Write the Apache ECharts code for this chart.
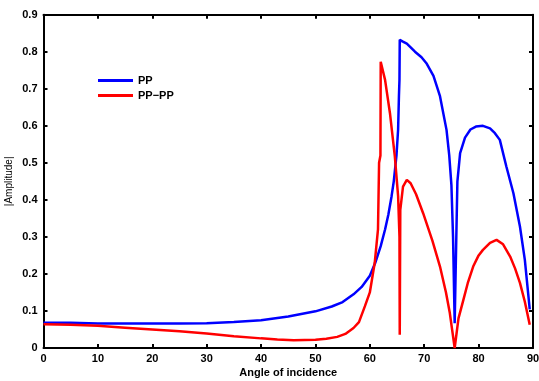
<!DOCTYPE html>
<html>
<head>
<meta charset="utf-8">
<script src="https://cdn.jsdelivr.net/npm/echarts@6/dist/echarts.min.js"></script>
<style>
html,body{margin:0;padding:0;background:#fff;}
#chart{width:539px;height:381px;}
</style>
</head>
<body>
<div id="chart"></div>
<script>
const xTicks = [0, 10, 20, 30, 40, 50, 60, 70, 80, 90];
const yTicks = [0, 0.1, 0.2, 0.3, 0.4, 0.5, 0.6, 0.7, 0.8, 0.9];
const seriesNames = ['PP', 'PP\u2212PP'];

const ppAngle = [0, 5, 10, 15, 20, 25, 30, 35, 40, 45, 50, 53, 55, 57, 58.5, 60, 61, 62, 62.8, 63.4, 64.0, 64.4, 64.9, 65.2, 65.35, 65.45, 65.5, 66, 66.8, 68.3, 69.5, 70.4, 71.7, 72.9, 74.1, 74.6, 75, 75.3, 75.6, 75.9, 76.1, 76.6, 77.5, 78.5, 79.5, 80.8, 82.1, 83, 83.9, 85.1, 86.4, 87.6, 88.5, 89.4];
const ppAmp = [0.068, 0.068, 0.066, 0.066, 0.066, 0.066, 0.067, 0.07, 0.075, 0.085, 0.099, 0.112, 0.124, 0.145, 0.165, 0.195, 0.23, 0.275, 0.32, 0.36, 0.41, 0.45, 0.52, 0.59, 0.68, 0.725, 0.832, 0.828, 0.822, 0.80, 0.785, 0.769, 0.735, 0.68, 0.589, 0.52, 0.44, 0.3, 0.067, 0.3, 0.45, 0.526, 0.568, 0.59, 0.598, 0.60, 0.593, 0.58, 0.562, 0.49, 0.418, 0.328, 0.238, 0.104];

const ppppAngle = [0, 5, 10, 15, 20, 25, 30, 35, 40, 43, 46, 50, 52, 54, 55.5, 57, 58, 59.1, 60, 60.9, 61.5, 61.7, 61.95, 62.0, 62.8, 63.7, 64.6, 65.2, 65.45, 65.5, 65.6, 66.1, 66.8, 67.5, 68.5, 69.8, 71.5, 72.9, 74.0, 74.7, 75.6, 76.3, 77.2, 78, 79, 80, 80.8, 82.1, 83.3, 84.5, 85.8, 86.7, 87.6, 88.5, 89.4];
const ppppAmp = [0.064, 0.063, 0.06, 0.055, 0.05, 0.045, 0.039, 0.032, 0.026, 0.023, 0.021, 0.022, 0.025, 0.03, 0.038, 0.054, 0.07, 0.113, 0.15, 0.23, 0.32, 0.5, 0.52, 0.773, 0.724, 0.634, 0.517, 0.41, 0.30, 0.036, 0.373, 0.436, 0.454, 0.445, 0.415, 0.364, 0.29, 0.22, 0.15, 0.095, 0.0, 0.08, 0.13, 0.175, 0.22, 0.25, 0.265, 0.284, 0.292, 0.28, 0.247, 0.215, 0.176, 0.125, 0.063];

const pair = (xs, ys) => xs.map((x, i) => [x, ys[i]]);
const font = 'Liberation Sans, Arial, sans-serif';

const chart = echarts.init(document.getElementById('chart'), null, {renderer: 'canvas'});
const axisLine = {show: true, onZero: false, lineStyle: {color: '#000', width: 2}};
const axisTick = {show: true, inside: true, length: 4, lineStyle: {color: '#000', width: 2}};
chart.setOption({
  animation: false,
  backgroundColor: '#fff',
  grid: {left: 43.5, right: 6, top: 14.7, bottom: 33, containLabel: false, outerBoundsMode: 'none'},
  legend: {
    orient: 'vertical', left: 93, top: 70,
    itemWidth: 35, itemHeight: 3, itemGap: 4,
    icon: 'rect',
    textStyle: {fontFamily: font, fontSize: 11, color: '#000', fontWeight: 'bold'},
    data: seriesNames
  },
  xAxis: [{
    type: 'value', min: xTicks[0], max: xTicks[xTicks.length - 1], interval: 10,
    axisLine, axisTick,
    splitLine: {show: false},
    axisLabel: {fontFamily: font, fontSize: 11, fontWeight: 'bold', color: '#000', margin: 5,
      formatter: v => String(v)},
    name: 'Angle of incidence', nameLocation: 'middle', nameGap: 19, nameMoveOverlap: false,
    nameTextStyle: {fontFamily: font, fontSize: 11, fontWeight: 'bold', color: '#000'}
  }, {
    type: 'value', position: 'top', min: xTicks[0], max: xTicks[xTicks.length - 1], interval: 10,
    axisLine, axisTick, axisLabel: {show: false}, splitLine: {show: false}
  }],
  yAxis: [{
    type: 'value', min: yTicks[0], max: yTicks[yTicks.length - 1], interval: 0.1,
    axisLine, axisTick,
    splitLine: {show: false},
    axisLabel: {fontFamily: font, fontSize: 11, fontWeight: 'bold', color: '#000', margin: 6,
      formatter: v => (Math.round(v * 10) / 10).toString()},
    name: '|Amplitude|', nameLocation: 'middle', nameGap: 29, nameMoveOverlap: false,
    nameTextStyle: {fontFamily: font, fontSize: 10, color: '#000'}
  }, {
    type: 'value', position: 'right', min: yTicks[0], max: yTicks[yTicks.length - 1], interval: 0.1,
    axisLine, axisTick, axisLabel: {show: false}, splitLine: {show: false}
  }],
  series: [{
    name: seriesNames[0], type: 'line', data: pair(ppAngle, ppAmp),
    symbol: 'none', lineStyle: {color: '#0000ff', width: 2.5}, itemStyle: {color: '#0000ff'},
    z: 3
  }, {
    name: seriesNames[1], type: 'line', data: pair(ppppAngle, ppppAmp),
    symbol: 'none', lineStyle: {color: '#ff0000', width: 2.5}, itemStyle: {color: '#ff0000'},
    z: 4
  }]
});
</script>
</body>
</html>
